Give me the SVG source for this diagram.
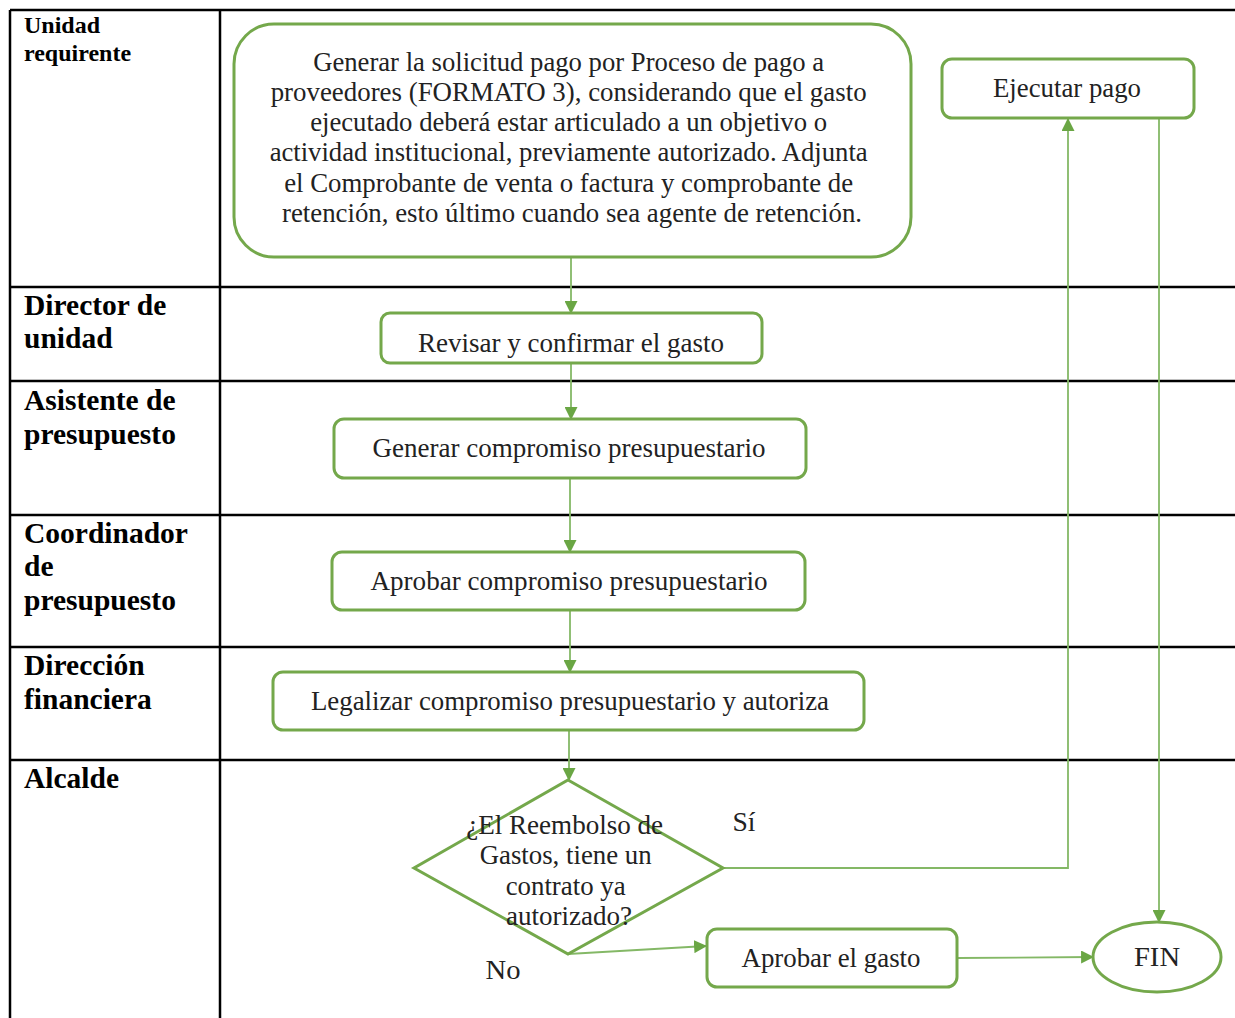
<svg xmlns="http://www.w3.org/2000/svg" width="1235" height="1018" viewBox="0 0 1235 1018">
  <style>
    .lane { stroke: #000; stroke-width: 2.5; fill: none; }
    .lbl { font-family: "Liberation Serif", "Times New Roman", serif; font-weight: bold; fill: #000; }
    .box { fill: #fff; stroke: #74a84b; stroke-width: 3; }
    .txt { font-family: "Liberation Serif", "Times New Roman", serif; font-size: 27px; fill: #222; text-anchor: middle; }
    .conn { fill: none; stroke: #84b866; stroke-width: 1.8; }
  </style>
  <defs>
    <marker id="arrow" viewBox="0 0 12 12" refX="11" refY="6" markerWidth="13" markerHeight="13" markerUnits="userSpaceOnUse" orient="auto">
      <path d="M0,0 L12,6 L0,12 Z" fill="#6aa644"/>
    </marker>
  </defs>

  <rect width="1235" height="1018" fill="#fff"/>

  <!-- swimlane table -->
  <g id="lanes">
    <line class="lane" x1="10" y1="10" x2="1235" y2="10"/>
    <line class="lane" x1="10" y1="10" x2="10" y2="1018"/>
    <line class="lane" x1="220" y1="10" x2="220" y2="1018"/>
    <line class="lane" x1="10" y1="287" x2="1235" y2="287"/>
    <line class="lane" x1="10" y1="381" x2="1235" y2="381"/>
    <line class="lane" x1="10" y1="515" x2="1235" y2="515"/>
    <line class="lane" x1="10" y1="647" x2="1235" y2="647"/>
    <line class="lane" x1="10" y1="760" x2="1235" y2="760"/>
    <text class="lbl" font-size="24"><tspan x="24" y="33">Unidad</tspan><tspan x="24" y="61">requirente</tspan></text>
    <text class="lbl" font-size="29.5"><tspan x="24" y="315">Director de</tspan><tspan x="24" y="348">unidad</tspan></text>
    <text class="lbl" font-size="29.5"><tspan x="24" y="410">Asistente de</tspan><tspan x="24" y="444">presupuesto</tspan></text>
    <text class="lbl" font-size="29.5"><tspan x="24" y="543">Coordinador</tspan><tspan x="24" y="576">de</tspan><tspan x="24" y="610">presupuesto</tspan></text>
    <text class="lbl" font-size="29.5"><tspan x="24" y="675">Dirección</tspan><tspan x="24" y="709">financiera</tspan></text>
    <text class="lbl" font-size="29.5"><tspan x="24" y="788">Alcalde</tspan></text>
  </g>

  <!-- connectors -->
  <g id="connectors">
    <line class="conn" x1="571" y1="257" x2="571" y2="313" marker-end="url(#arrow)"/>
    <line class="conn" x1="571" y1="363" x2="571" y2="419" marker-end="url(#arrow)"/>
    <line class="conn" x1="570" y1="478" x2="570" y2="552" marker-end="url(#arrow)"/>
    <line class="conn" x1="570" y1="610" x2="570" y2="672" marker-end="url(#arrow)"/>
    <line class="conn" x1="569" y1="730" x2="569" y2="780" marker-end="url(#arrow)"/>
    <polyline class="conn" points="723,868 1068,868 1068,119" marker-end="url(#arrow)"/>
    <line class="conn" x1="1159" y1="118" x2="1159" y2="922" marker-end="url(#arrow)"/>
    <line class="conn" x1="568" y1="954" x2="706" y2="946" marker-end="url(#arrow)"/>
    <line class="conn" x1="957" y1="958" x2="1093" y2="957" marker-end="url(#arrow)"/>
  </g>

  <g id="n-solicitud">
    <rect class="box" x="234" y="24" width="677" height="233" rx="40"/>
    <text class="txt">
      <tspan x="572" y="71" textLength="511" lengthAdjust="spacingAndGlyphs">Generar la solicitud pago por Proceso de pago a</tspan>
      <tspan x="572" y="101" textLength="596" lengthAdjust="spacingAndGlyphs">proveedores (FORMATO 3), considerando que el gasto</tspan>
      <tspan x="572" y="131" textLength="517" lengthAdjust="spacingAndGlyphs">ejecutado deberá estar articulado a un objetivo o</tspan>
      <tspan x="572" y="161" textLength="598" lengthAdjust="spacingAndGlyphs">actividad institucional, previamente autorizado. Adjunta</tspan>
      <tspan x="572" y="192" textLength="569" lengthAdjust="spacingAndGlyphs">el Comprobante de venta o factura y comprobante de</tspan>
      <tspan x="572" y="222" textLength="580" lengthAdjust="spacingAndGlyphs">retención, esto último cuando sea agente de retención.</tspan>
    </text>
  </g>

  <g id="n-ejecutar">
    <rect class="box" x="942" y="59" width="252" height="59" rx="10"/>
    <text class="txt" x="1067" y="97" textLength="148" lengthAdjust="spacingAndGlyphs">Ejecutar pago</text>
  </g>

  <g id="n-revisar">
    <rect class="box" x="381" y="313" width="381" height="50" rx="9"/>
    <text class="txt" x="571" y="352" textLength="306" lengthAdjust="spacingAndGlyphs">Revisar y confirmar el gasto</text>
  </g>

  <g id="n-generar">
    <rect class="box" x="334" y="419" width="472" height="59" rx="10"/>
    <text class="txt" x="569" y="457" textLength="393" lengthAdjust="spacingAndGlyphs">Generar compromiso presupuestario</text>
  </g>

  <g id="n-aprobar-compromiso">
    <rect class="box" x="332" y="552" width="473" height="58" rx="10"/>
    <text class="txt" x="569" y="590" textLength="397" lengthAdjust="spacingAndGlyphs">Aprobar  compromiso presupuestario</text>
  </g>

  <g id="n-legalizar">
    <rect class="box" x="273" y="672" width="591" height="58" rx="10"/>
    <text class="txt" x="570" y="710" textLength="518" lengthAdjust="spacingAndGlyphs">Legalizar compromiso presupuestario y autoriza</text>
  </g>

  <g id="n-decision">
    <polygon class="box" points="568,780 723,868 568,954 414,868"/>
    <text class="txt">
      <tspan x="568" y="834" textLength="197" lengthAdjust="spacingAndGlyphs">¿El Reembolso de</tspan>
      <tspan x="569" y="864" textLength="172" lengthAdjust="spacingAndGlyphs">Gastos, tiene un</tspan>
      <tspan x="569" y="895" textLength="120" lengthAdjust="spacingAndGlyphs">contrato ya</tspan>
      <tspan x="569" y="925" textLength="126" lengthAdjust="spacingAndGlyphs">autorizado?</tspan>
    </text>
    <text class="txt" x="744" y="831" textLength="23" lengthAdjust="spacingAndGlyphs">Sí</text>
    <text class="txt" x="503" y="979" textLength="35" lengthAdjust="spacingAndGlyphs">No</text>
  </g>

  <g id="n-aprobar-gasto">
    <rect class="box" x="707" y="929" width="250" height="58" rx="10"/>
    <text class="txt" x="831" y="967" textLength="179" lengthAdjust="spacingAndGlyphs">Aprobar el gasto</text>
  </g>

  <g id="n-fin">
    <ellipse class="box" cx="1157" cy="957" rx="64" ry="35"/>
    <text class="txt" x="1157" y="966" textLength="46" lengthAdjust="spacingAndGlyphs">FIN</text>
  </g>
</svg>
